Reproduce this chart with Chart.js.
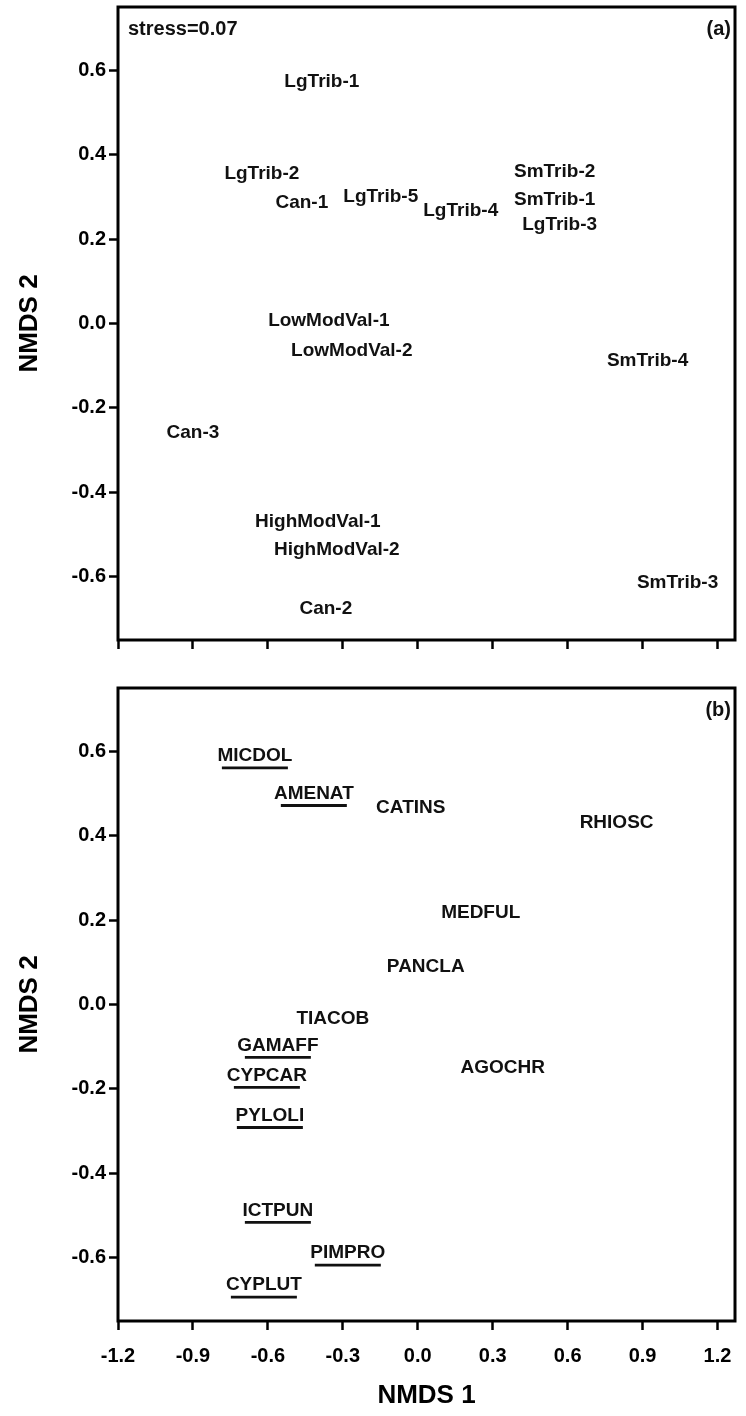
<!DOCTYPE html>
<html lang="en">
<head>
<meta charset="UTF-8">
<title>NMDS ordination</title>
<script src="https://cdn.jsdelivr.net/npm/chart.js@4.4.0/dist/chart.umd.min.js"></script>
<style>
    body { margin: 0; background: #fff; }
    .panel { position: absolute; left: 0; }
    #sitesWrap { top: 0; }
    #speciesWrap { top: 660px; }
</style>
</head>
<body>
<div class="panel" id="sitesWrap"><canvas id="sitesChart" width="746" height="660"></canvas></div>
<div class="panel" id="speciesWrap"><canvas id="speciesChart" width="746" height="756"></canvas></div>
<script>
// axis ticks
const xTicks = [-1.2, -0.9, -0.6, -0.3, 0.0, 0.3, 0.6, 0.9, 1.2];
const yTicks = [-0.6, -0.4, -0.2, 0.0, 0.2, 0.4, 0.6];

// (a) site scores
const siteNames = ['LgTrib-1', 'LgTrib-2', 'Can-1', 'LgTrib-5', 'LgTrib-4', 'SmTrib-2', 'SmTrib-1', 'LgTrib-3',
    'LowModVal-1', 'LowModVal-2', 'SmTrib-4', 'Can-3', 'HighModVal-1', 'HighModVal-2', 'SmTrib-3', 'Can-2'];
const siteX = [-0.384, -0.624, -0.464, -0.148, 0.172, 0.548, 0.548, 0.568,
    -0.356, -0.264, 0.92, -0.90, -0.40, -0.324, 1.04, -0.368];
const siteY = [0.573, 0.355, 0.285, 0.30, 0.267, 0.36, 0.293, 0.234,
    0.007, -0.064, -0.088, -0.26, -0.47, -0.535, -0.615, -0.675];

// (b) species scores, underlined ones flagged
const speciesNames = ['MICDOL', 'AMENAT', 'CATINS', 'RHIOSC', 'MEDFUL', 'PANCLA', 'TIACOB', 'GAMAFF',
    'CYPCAR', 'AGOCHR', 'PYLOLI', 'ICTPUN', 'PIMPRO', 'CYPLUT'];
const speciesX = [-0.652, -0.416, -0.028, 0.796, 0.252, 0.032, -0.34, -0.56,
    -0.604, 0.34, -0.592, -0.56, -0.28, -0.616];
const speciesY = [0.589, 0.50, 0.466, 0.431, 0.218, 0.09, -0.033, -0.097,
    -0.168, -0.151, -0.263, -0.488, -0.589, -0.665];
const speciesUnderlined = [true, true, false, false, false, false, false, true,
    true, false, true, true, true, true];

const FONT = "'Liberation Sans', Arial, sans-serif";
const INK = '#111';

// text labels at each score, plus the frame and panel tags
const ordinationPlugin = {
    id: 'ordination',
    afterDatasetsDraw(chart) {
        const ctx = chart.ctx;
        ctx.save();
        ctx.fillStyle = INK;
        ctx.strokeStyle = INK;
        ctx.font = 'bold 19px ' + FONT;
        ctx.textAlign = 'center';
        ctx.textBaseline = 'middle';
        chart.data.datasets.forEach((ds, di) => {
            const meta = chart.getDatasetMeta(di);
            meta.data.forEach((pt, i) => {
                ctx.fillText(ds.names[i], pt.x, pt.y);
                if (ds.underlined && ds.underlined[i]) {
                    ctx.lineWidth = 2.8;
                    ctx.beginPath();
                    ctx.moveTo(pt.x - 33, pt.y + 12);
                    ctx.lineTo(pt.x + 33, pt.y + 12);
                    ctx.stroke();
                }
            });
        });
        ctx.restore();
    },
    afterDraw(chart, args, opts) {
        const {ctx, chartArea: a} = chart;
        ctx.save();
        ctx.strokeStyle = '#000';
        ctx.lineWidth = 3;
        ctx.strokeRect(a.left, a.top, a.right - a.left, a.bottom - a.top);
        ctx.fillStyle = INK;
        ctx.font = 'bold 20px ' + FONT;
        ctx.textBaseline = 'middle';
        if (opts.stress) {
            ctx.textAlign = 'left';
            ctx.fillText(opts.stress, a.left + 10, a.top + 22);
        }
        ctx.textAlign = 'right';
        ctx.fillText(opts.tag, a.right - 4, a.top + 22);
        ctx.restore();
    }
};

function noEdgePadding(s) {
    s.paddingTop = 0;
    s.paddingBottom = 0;
    s.paddingLeft = 0;
    s.paddingRight = 0;
}

function makeScales(showX) {
    const tickFont = { family: FONT, size: 20, weight: 'bold' };
    const titleFont = { family: FONT, size: 26, weight: 'bold' };
    const grid = { drawOnChartArea: false, drawTicks: true, tickLength: 9, tickWidth: 2.5, tickColor: '#000' };
    return {
        x: {
            type: 'linear', min: -1.2, max: 1.27,
            afterBuildTicks: s => { s.ticks = xTicks.map(v => ({ value: v })); },
            afterFit: s => { s.height = showX ? 95 : 20; noEdgePadding(s); },
            grid: grid,
            border: { display: false },
            ticks: {
                display: showX, color: '#000', font: tickFont, padding: 14,
                maxRotation: 0, autoSkip: false, callback: v => v.toFixed(1)
            },
            title: { display: showX, text: 'NMDS 1', color: '#000', font: titleFont, padding: { top: 0, bottom: 5 } }
        },
        y: {
            type: 'linear', min: -0.75, max: 0.75,
            afterBuildTicks: s => { s.ticks = yTicks.map(v => ({ value: v })); },
            afterFit: s => { s.width = 118; noEdgePadding(s); },
            grid: grid,
            border: { display: false },
            ticks: { color: '#000', font: tickFont, padding: 3, callback: v => v.toFixed(1) },
            title: { display: true, text: 'NMDS 2', color: '#000', font: titleFont, padding: { top: 14, bottom: 0 } }
        }
    };
}

function scoreData(xs, ys) {
    return xs.map((x, i) => ({ x: x, y: ys[i] }));
}

new Chart(document.getElementById('sitesChart'), {
    type: 'scatter',
    data: {
        datasets: [{ data: scoreData(siteX, siteY), names: siteNames, pointRadius: 0 }]
    },
    options: {
        responsive: false,
        animation: false,
        layout: { padding: { top: 7, right: 11, left: 0, bottom: 0 } },
        plugins: {
            legend: { display: false },
            tooltip: { enabled: false },
            ordination: { tag: '(a)', stress: 'stress=0.07' }
        },
        scales: makeScales(false)
    },
    plugins: [ordinationPlugin]
});

new Chart(document.getElementById('speciesChart'), {
    type: 'scatter',
    data: {
        datasets: [{
            data: scoreData(speciesX, speciesY), names: speciesNames,
            underlined: speciesUnderlined, pointRadius: 0
        }]
    },
    options: {
        responsive: false,
        animation: false,
        layout: { padding: { top: 28, right: 11, left: 0, bottom: 0 } },
        plugins: {
            legend: { display: false },
            tooltip: { enabled: false },
            ordination: { tag: '(b)' }
        },
        scales: makeScales(true)
    },
    plugins: [ordinationPlugin]
});
</script>
</body>
</html>
